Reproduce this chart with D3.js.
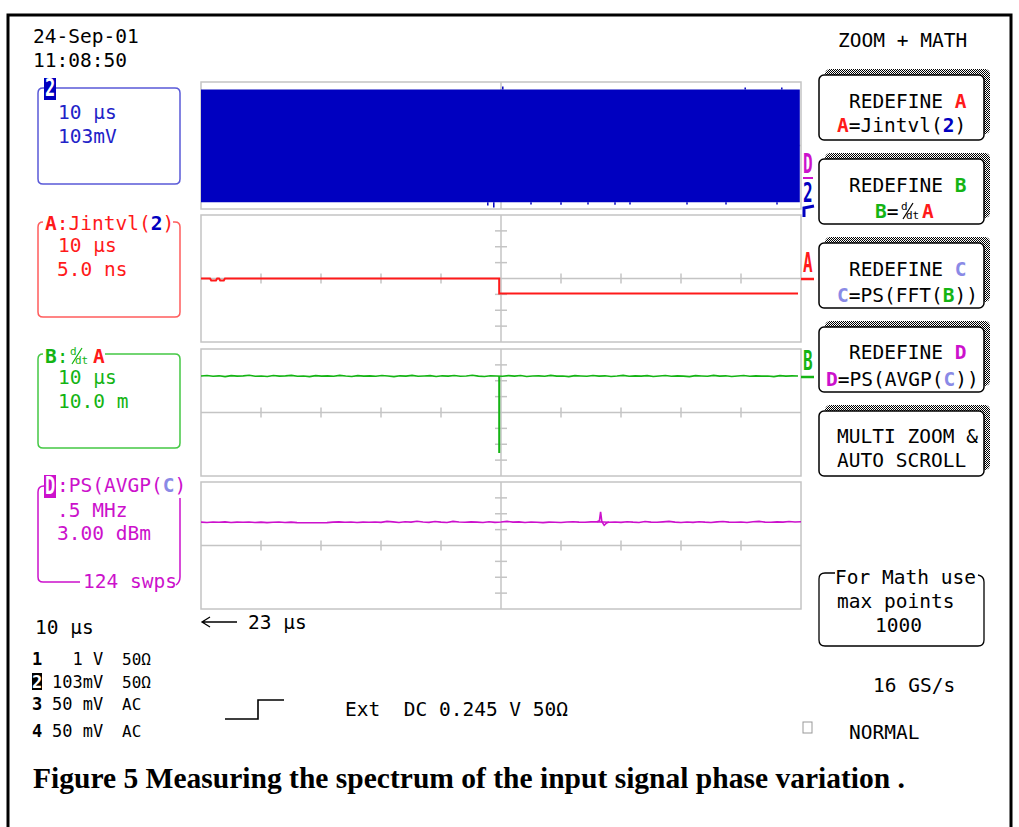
<!DOCTYPE html>
<html>
<head>
<meta charset="utf-8">
<script src="https://cdn.jsdelivr.net/npm/d3@7"></script>
<style>
body { margin: 0; background: #fff; }
svg text { font-family: "DejaVu Sans Mono", "Liberation Mono", monospace; white-space: pre; }
</style>
</head>
<body>
<svg id="scope" width="1019" height="827"></svg>
<script>
// ---- values (units: grid divisions) ----
const stampLines = ["24-Sep-01", "11:08:50"];
const xTickDivs = [-4, -3, -2, -1, 1, 2, 3, 4];
const yTickDivs = [-3, -2, -1, 1, 2, 3];

// channel 2, fills nearly the whole trace window
const blueEnvelope = [{t: -5, hi: 3.52, lo: -3.58}, {t: 4.98, hi: 3.52, lo: -3.58}];
const blueSpikesUp = [[0.03, 3.72], [4.07, 3.66], [4.68, 3.66]];
const blueSpikesDown = [[-0.22, -3.78], [-0.12, -3.9], [0.5, -3.72], [1.0, -3.74], [1.45, -3.72],
  [1.9, -3.74], [2.15, -3.72], [3.1, -3.72], [3.75, -3.72], [4.6, -3.72]];

// A : Jintvl(2)
const redTrace = [[-5, 0], [-4.85, 0], [-4.83, -0.12], [-4.75, -0.12], [-4.73, 0], [-4.7, 0],
  [-4.68, -0.12], [-4.62, -0.12], [-4.6, 0], [-0.03, 0], [-0.03, -0.95], [4.95, -0.95]];

// B : d/dt A
const greenTrace = [
  2.30,2.33,2.28,2.31,2.26,2.32,2.29,2.31,2.35,2.28,
  2.30,2.27,2.33,2.29,2.31,2.34,2.28,2.30,2.26,2.32,
  2.29,2.31,2.28,2.34,2.30,2.27,2.32,2.29,2.31,2.28,
  2.33,2.30,2.26,2.31,2.29,2.34,2.28,2.30,2.32,2.27,
  2.31,2.29,2.33,2.28,2.30,2.35,2.29,2.27,2.31,2.30,
  2.28,2.32,2.29,2.33,2.27,2.30,2.31,2.28,2.34,2.29,
  2.30,2.26,2.32,2.30,2.28,2.33,2.29,2.31,2.27,2.30,
  2.34,2.28,2.31,2.29,2.32,2.27,2.30,2.33,2.28,2.31,
  2.29,2.26,2.32,2.30,2.28,2.34,2.29,2.31,2.27,2.30,
  2.33,2.28,2.31,2.29,2.30,2.26,2.32,2.29,2.31,2.30];
const greenSpike = [[-0.03, 2.3], [-0.03, -2.55]];

// D : PS(AVGP(C))
const magentaTrace = [
  1.47,1.45,1.48,1.46,1.49,1.45,1.47,1.46,1.48,1.45,
  1.47,1.44,1.46,1.48,1.45,1.47,1.44,1.43,1.43,1.43,
  1.43,1.44,1.47,1.49,1.46,1.48,1.45,1.47,1.46,1.48,
  1.46,1.52,1.49,1.45,1.50,1.47,1.53,1.48,1.46,1.51,
  1.47,1.45,1.52,1.48,1.46,1.49,1.47,1.45,1.50,1.46,
  1.48,1.52,1.47,1.49,1.45,1.48,1.46,1.44,1.47,1.46,
  1.45,1.48,1.50,1.47,1.46,1.49,1.50,1.48,1.46,1.48,
  1.46,1.50,1.47,1.45,1.51,1.47,1.46,1.49,1.52,1.47,
  1.45,1.48,1.46,1.50,1.47,1.45,1.49,1.51,1.47,1.46,
  1.48,1.45,1.50,1.52,1.47,1.46,1.49,1.47,1.51,1.48,1.50];
const magentaSpike = [[1.6, 1.49], [1.64, 1.56], [1.66, 2.12], [1.68, 1.52], [1.72, 1.27], [1.76, 1.42], [1.8, 1.48]];

const channelRows = [["1", "  1 V", "50Ω"], ["2", "103mV", "50Ω"], ["3", "50 mV", "AC"], ["4", "50 mV", "AC"]];
const triggerText = "Ext  DC 0.245 V 50Ω";
const caption = "Figure 5 Measuring the spectrum of the input signal phase variation .";

const col = {
  blue: "#0000c0", blueTxt: "#2222c8", blueBox: "#5a5ad8",
  red: "#ff1a1a", redBox: "#ff5c5c",
  green: "#14b414", greenBox: "#44c844",
  mag: "#cc11cc", lilac: "#8a8ae6", grid: "#c4c4c4"
};

const svg = d3.select("#scope");

// hatch for the button shadows
svg.append("defs").append("pattern")
    .attr("id", "hatch").attr("width", 2).attr("height", 2)
    .attr("patternUnits", "userSpaceOnUse")
    .call(p => {
        p.append("rect").attr("width", 2).attr("height", 2).attr("fill", "#fff");
        p.append("rect").attr("width", 1).attr("height", 1).attr("fill", "#000");
        p.append("rect").attr("x", 1).attr("y", 1).attr("width", 1).attr("height", 1).attr("fill", "#000");
    });

// outer frame
svg.append("rect")
    .attr("x", 8).attr("y", 15).attr("width", 1003).attr("height", 840)
    .attr("fill", "none").attr("stroke", "#000").attr("stroke-width", 3);

function txt(x, y, s, opt = {}) {
    return svg.append("text")
        .attr("x", x).attr("y", y)
        .attr("font-size", opt.size || 19.5)
        .attr("fill", opt.fill || "#000")
        .attr("font-weight", opt.bold ? "bold" : null)
        .attr("text-anchor", opt.anchor || "start")
        .text(s);
}

function rich(x, y, parts, size = 19.5) {
    const t = svg.append("text").attr("x", x).attr("y", y).attr("font-size", size);
    parts.forEach(([s, fill, bold]) => {
        t.append("tspan").attr("fill", fill || "#000")
            .attr("font-weight", bold ? "bold" : null).text(s);
    });
    return t;
}

// little stacked d/dt
function ddt(x, y, fill) {
    const g = svg.append("g").attr("fill", fill);
    g.append("text").attr("x", x).attr("y", y - 8).attr("font-size", 11).text("d");
    g.append("line").attr("x1", x + 2).attr("y1", y + 1).attr("x2", x + 12).attr("y2", y - 15)
        .attr("stroke", fill).attr("stroke-width", 1.2);
    g.append("text").attr("x", x + 5).attr("y", y + 1).attr("font-size", 11).text("dt");
}

function badge(x, y, w, h, s, bg) {
    svg.append("rect").attr("x", x).attr("y", y).attr("width", w).attr("height", h).attr("fill", bg);
    svg.append("text").attr("x", x + w / 2).attr("y", y + h - 4)
        .attr("text-anchor", "middle").attr("font-size", 20).attr("font-weight", "bold")
        .attr("fill", "#fff").attr("transform", `translate(${x + w / 2},${y + h - 4}) scale(0.85,1.25) translate(${-(x + w / 2)},${-(y + h - 4)})`)
        .text(s);
}

function tallLetter(x, y, s, fill) {
    svg.append("text").attr("font-size", 20).attr("font-weight", "bold").attr("fill", fill)
        .attr("transform", `translate(${x},${y}) scale(0.8,1.3)`).text(s);
}

function stroke(d, color, w = 1.5) {
    svg.append("path").attr("d", d).attr("fill", "none").attr("stroke", color).attr("stroke-width", w);
}

// header
stampLines.forEach((s, i) => txt(33, 43 + i * 24, s));
txt(838, 47, "ZOOM + MATH");

// ---- trace windows ----
const x = d3.scaleLinear().domain([-5, 5]).range([201, 801]);
const panelTops = [82, 215, 349, 482];
const panelH = 127;
const ys = panelTops.map(top => d3.scaleLinear().domain([-4, 4]).range([top + panelH, top]));

ys.forEach((y, i) => {
    const g = svg.append("g").attr("stroke", col.grid).attr("stroke-width", 1.5).attr("fill", "none");
    g.append("rect").attr("x", x(-5)).attr("y", y(4)).attr("width", x(5) - x(-5)).attr("height", y(-4) - y(4));
    g.append("line").attr("x1", x(-5)).attr("x2", x(5)).attr("y1", y(0)).attr("y2", y(0));
    g.append("line").attr("x1", x(0)).attr("x2", x(0)).attr("y1", y(4)).attr("y2", y(-4));
    g.selectAll(".tx").data(xTickDivs).join("line")
        .attr("x1", d => x(d)).attr("x2", d => x(d)).attr("y1", y(0) - 5).attr("y2", y(0) + 5);
    g.selectAll(".ty").data(yTickDivs).join("line")
        .attr("x1", x(0) - 6).attr("x2", x(0) + 6).attr("y1", d => y(d)).attr("y2", d => y(d));
});

// channel 2 (blue band)
const yB = ys[0];
svg.append("path").datum(blueEnvelope)
    .attr("fill", col.blue)
    .attr("d", d3.area().x(d => x(d.t)).y0(d => yB(d.lo)).y1(d => yB(d.hi)));
svg.selectAll(".bu").data(blueSpikesUp).join("line")
    .attr("x1", d => x(d[0])).attr("x2", d => x(d[0])).attr("y1", yB(3.52)).attr("y2", d => yB(d[1]))
    .attr("stroke", col.blue).attr("stroke-width", 1.5);
svg.selectAll(".bd").data(blueSpikesDown).join("line")
    .attr("x1", d => x(d[0])).attr("x2", d => x(d[0])).attr("y1", yB(-3.58)).attr("y2", d => yB(d[1]))
    .attr("stroke", col.blue).attr("stroke-width", 1.5);

// A
svg.append("path").datum(redTrace)
    .attr("fill", "none").attr("stroke", col.red).attr("stroke-width", 2)
    .attr("d", d3.line().x(d => x(d[0])).y(d => ys[1](d[1])));

// B
const gIdx = d3.scaleLinear().domain([0, greenTrace.length - 1]).range([-5, 4.95]);
svg.append("path").datum(greenTrace)
    .attr("fill", "none").attr("stroke", col.green).attr("stroke-width", 1.6)
    .attr("d", d3.line().x((d, i) => x(gIdx(i))).y(d => ys[2](d)));
svg.append("path").datum(greenSpike)
    .attr("fill", "none").attr("stroke", col.green).attr("stroke-width", 2)
    .attr("d", d3.line().x(d => x(d[0])).y(d => ys[2](d[1])));

// D
const mIdx = d3.scaleLinear().domain([0, magentaTrace.length - 1]).range([-5, 5]);
svg.append("path").datum(magentaTrace)
    .attr("fill", "none").attr("stroke", col.mag).attr("stroke-width", 1.6)
    .attr("d", d3.line().x((d, i) => x(mIdx(i))).y(d => ys[3](d)));
svg.append("path").datum(magentaSpike)
    .attr("fill", "none").attr("stroke", col.mag).attr("stroke-width", 1.6)
    .attr("d", d3.line().x(d => x(d[0])).y(d => ys[3](d[1])));

// trace markers right of the grid
tallLetter(803, 173, "D", col.mag);
stroke("M803,178H813", col.mag, 2);
tallLetter(803, 202, "2", col.blue);
stroke("M804,217V208L814,206", col.blue, 3);
tallLetter(803, 272, "A", col.red);
stroke("M801,279H814", col.red, 2.5);
tallLetter(803, 370, "B", col.green);
stroke("M801,377H814", col.green, 2.5);

// ---- left trace boxes ----
// channel 2
stroke("M43,88H175Q180,88 180,93V179Q180,184 175,184H43Q38,184 38,179V93Q38,88 43,88", col.blueBox);
badge(44, 78, 12, 22, "2", col.blue);
txt(58, 119, "10 μs", {fill: col.blueTxt});
txt(58, 143, "103mV", {fill: col.blueTxt});

// A
stroke("M173,222H175Q180,222 180,227V312Q180,317 175,317H43Q38,317 38,312V227Q38,222 43,222", col.redBox);
rich(45, 230, [["A", col.red, true], [":Jintvl(", col.red], ["2", col.blue, true], [")", col.red]]);
txt(58, 252, "10 μs", {fill: col.red});
txt(57, 276, "5.0 ns", {fill: col.red});

// B
stroke("M105,354H175Q180,354 180,359V443Q180,448 175,448H43Q38,448 38,443V359Q38,354 43,354", col.greenBox);
rich(45, 363, [["B", col.green, true], [":", col.green]]);
ddt(70, 363, col.green);
txt(93, 363, "A", {fill: col.red, bold: true});
txt(58, 384, "10 μs", {fill: col.green});
txt(58, 408, "10.0 m", {fill: col.green});

// D
stroke("M44,486Q38,486 38,492V577Q38,582 43,582H80", col.mag);
stroke("M180,498V577Q180,582 176,585", col.mag);
badge(44, 475, 12, 23, "D", col.mag);
rich(57, 492, [[":PS(AVGP(", col.mag], ["C", col.lilac, true], [")", col.mag]]);
txt(57, 517, ".5 MHz", {fill: col.mag});
txt(57, 540, "3.00 dBm", {fill: col.mag});
txt(83, 588, "124 swps", {fill: col.mag});

// below the grid
txt(35, 634, "10 μs");
stroke("M237,622H202M210,617L202,622L210,627", "#000", 1.3);
txt(248, 629, "23 μs");

channelRows.forEach((r, i) => {
    const by = [665, 688, 710, 737][i];
    if (r[0] === "2") {
        svg.append("rect").attr("x", 32).attr("y", by - 15).attr("width", 10).attr("height", 17).attr("fill", "#000");
        txt(37, by, r[0], {size: 17, bold: true, fill: "#fff", anchor: "middle"});
    } else {
        txt(37, by, r[0], {size: 17, bold: true, anchor: "middle"});
    }
    txt(52, by, r[1], {size: 17});
    txt(122, by, r[2], {size: 16});
});

stroke("M225,719H258V700H284", "#000", 1.6);
txt(345, 716, triggerText);

// ---- softkey menu ----
const btnTops = [75, 159, 243, 327, 411];
btnTops.forEach(t => {
    svg.append("rect").attr("x", 825).attr("y", t - 6).attr("width", 165).attr("height", 65)
        .attr("rx", 5).attr("fill", "url(#hatch)");
    svg.append("rect").attr("x", 819).attr("y", t).attr("width", 165).attr("height", 65)
        .attr("rx", 5).attr("fill", "#fff").attr("stroke", "#000").attr("stroke-width", 1.5);
});
rich(849, 108, [["REDEFINE "], ["A", col.red, true]]);
rich(837, 132, [["A", col.red, true], ["=Jintvl("], ["2", col.blue, true], [")"]]);
rich(849, 192, [["REDEFINE "], ["B", col.green, true]]);
rich(875, 218, [["B", col.green, true], ["="]]);
ddt(901, 218, "#000");
txt(922, 218, "A", {fill: col.red, bold: true});
rich(849, 276, [["REDEFINE "], ["C", col.lilac, true]]);
rich(837, 302, [["C", col.lilac, true], ["=PS(FFT("], ["B", col.green, true], ["))"]]);
rich(849, 359, [["REDEFINE "], ["D", col.mag, true]]);
rich(826, 386, [["D", col.mag, true], ["=PS(AVGP("], ["C", col.lilac, true], ["))"]]);
txt(837, 443, "MULTI ZOOM &");
txt(837, 467, "AUTO SCROLL");

stroke("M835,573H825Q819,573 819,579V640Q819,646 825,646H978Q984,646 984,640V582Q984,576 978,575", "#000", 1.3);
txt(835, 584, "For Math use");
txt(837, 608, "max points");
txt(875, 632, "1000");
txt(873, 692, "16 GS/s");
svg.append("rect").attr("x", 803).attr("y", 722).attr("width", 9).attr("height", 11)
    .attr("fill", "none").attr("stroke", "#999").attr("stroke-width", 1);
txt(849, 739, "NORMAL");

// caption
svg.append("text").attr("x", 33).attr("y", 788)
    .style("font-family", "'Liberation Serif', 'Times New Roman', serif")
    .attr("font-size", 28.5).attr("font-weight", "bold")
    .attr("textLength", 872).attr("lengthAdjust", "spacingAndGlyphs")
    .text(caption);
</script>
</body>
</html>
